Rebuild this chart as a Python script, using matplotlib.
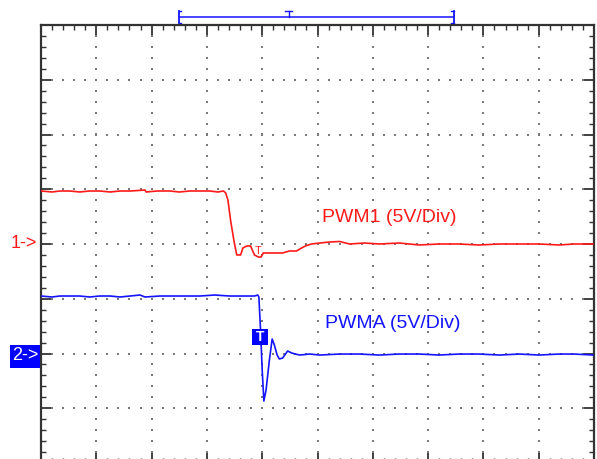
import matplotlib
matplotlib.use("Agg")
import matplotlib.pyplot as plt
import numpy as np
from matplotlib.patches import Rectangle

# ---------------- data (time in divisions, voltage in volts, 5 V/div) -------------
volts_per_div = 5.0
ch1_offset_div = 4.0   # "1->" ground marker
ch2_offset_div = 2.0   # "2->" ground marker

t_pwm1 = [0.00, 0.20, 0.34, 0.52, 0.70, 0.88, 1.06, 1.25, 1.43, 1.62, 1.88, 1.90, 2.10,
          2.33, 2.50, 2.69, 2.88, 3.05, 3.20, 3.30, 3.34, 3.38, 3.43, 3.49, 3.54, 3.61,
          3.65, 3.72, 3.79, 3.86, 3.93, 3.98, 4.02, 4.13, 4.37, 4.49, 4.62, 4.68, 4.78,
          4.89, 5.04, 5.22, 5.40, 5.58, 5.85, 6.12, 6.48, 6.84, 7.20, 7.56, 7.92, 8.29,
          8.65, 9.01, 9.37, 9.64, 9.98]
v_pwm1 = [4.84, 4.75, 4.84, 4.84, 4.75, 4.84, 4.84, 4.75, 4.84, 4.84, 4.93, 4.75, 4.84,
          4.84, 4.75, 4.84, 4.84, 4.84, 4.75, 4.84, 4.66, 4.02, 2.10, 0.27, -1.00, -1.00,
          -0.37, -0.18, -0.18, -1.00, -1.19, -1.19, -0.82, -0.82, -0.82, -0.64, -0.64, -0.46,
          -0.18, 0.00, 0.09, 0.18, 0.23, -0.00, 0.09, 0.00, 0.09, -0.09, 0.00, 0.00, -0.09,
          0.00, 0.00, 0.00, -0.09, 0.00, 0.00]

t_pwma = [0.00, 0.20, 0.34, 0.52, 0.70, 0.88, 1.06, 1.25, 1.43, 1.79, 1.88, 2.15, 2.51,
          2.87, 3.14, 3.41, 3.68, 3.86, 3.92, 3.94, 3.97, 4.00, 4.03, 4.07, 4.13, 4.18,
          4.22, 4.27, 4.31, 4.37, 4.46, 4.53, 4.60, 4.68, 4.86, 5.04, 5.40, 5.76, 6.12,
          6.48, 6.84, 7.20, 7.56, 7.92, 8.29, 8.65, 9.01, 9.37, 9.64, 9.98]
v_pwma = [5.25, 5.16, 5.25, 5.25, 5.25, 5.16, 5.25, 5.25, 5.16, 5.34, 5.16, 5.25, 5.25,
          5.25, 5.34, 5.25, 5.25, 5.25, 5.34, 5.16, 2.15, -1.51, -4.34, -3.33, -0.59, 1.32,
          0.78, -0.14, -0.50, -0.41, 0.23, 0.05, -0.05, -0.14, -0.05, -0.14, -0.05, -0.05,
          -0.14, -0.05, -0.05, -0.14, -0.05, -0.05, -0.14, -0.05, -0.14, -0.05, -0.05, -0.14]

trigger_t = 3.97
trigger_window = (2.49, 7.47)
trigger_bar_t = 4.48

label_pwm1 = "PWM1 (5V/Div)"
label_pwma = "PWMA (5V/Div)"

# ---------------- figure ---------------------------------------------------------
plt.rcParams['font.family'] = ['Liberation Sans', 'DejaVu Sans']
W, H = 597, 459
fig = plt.figure(figsize=(W / 100, H / 100), dpi=100)
left_px, right_px, top_px, div_h = 41, 594, 25, 54.75
bot_px = top_px + 8 * div_h
ax = fig.add_axes([left_px / W, (H - bot_px) / H, (right_px - left_px) / W, 8 * div_h / H])
ax.set_xlim(0, 10)
ax.set_ylim(0, 8)

red = '#ff1a1a'
blue = '#1414ff'
frame = '#333333'

for s in ax.spines.values():
    s.set_color(frame)
    s.set_linewidth(1.6)

ax.set_xticks(np.arange(0, 11, 1))
ax.set_yticks(np.arange(0, 9, 1))
ax.set_xticks(np.arange(0, 10.01, 0.2), minor=True)
ax.set_yticks(np.arange(0, 8.01, 0.2), minor=True)
ax.tick_params(which='both', direction='in', top=True, right=True, bottom=True, left=True,
               labelbottom=False, labelleft=False, color=frame)
ax.tick_params(which='major', length=7.5, width=1.3)
ax.tick_params(which='minor', length=3.5, width=1.0)

# dotted graticule
dots_x, dots_y = [], []
for k in range(1, 10):
    for y in np.arange(0.2, 8.0, 0.2):
        dots_x.append(k); dots_y.append(y)
for j in range(1, 8):
    for x in np.arange(0.2, 10.0, 0.2):
        dots_x.append(x); dots_y.append(j)
ax.scatter(dots_x, dots_y, s=1.6, marker='s', color='#7a7a7a', linewidths=0, zorder=1)

# traces
y1 = ch1_offset_div + np.array(v_pwm1) / volts_per_div
y2 = ch2_offset_div + np.array(v_pwma) / volts_per_div
ax.plot(t_pwm1, y1, color=red, lw=1.2, zorder=3)
ax.plot(t_pwma, y2, color=blue, lw=1.2, zorder=3)

# labels
ax.text(5.08, 4.40, label_pwm1, color=red, fontsize=14, ha='left', va='baseline')
ax.text(5.14, 2.47, label_pwma, color=blue, fontsize=14, ha='left', va='baseline')

# channel markers
ax.annotate("1->", xy=(0, ch1_offset_div), xytext=(-3, 0), textcoords='offset points',
            color=red, fontsize=13, ha='right', va='center', annotation_clip=False)
ax.add_patch(Rectangle((-0.56, ch2_offset_div - 0.26), 0.54, 0.42, facecolor='#0000ff',
                       edgecolor='none', clip_on=False, zorder=5))
ax.text(-0.29, ch2_offset_div - 0.04, "2->", color='white', fontsize=13, ha='center',
        va='center', clip_on=False, zorder=6)

# trigger markers
ax.add_patch(Rectangle((trigger_t - 0.15, 2.15), 0.29, 0.30, facecolor='#0000ff',
                       edgecolor='none', zorder=5))
ax.text(trigger_t - 0.005, 2.30, "T", color='white', fontsize=10, fontweight='bold',
        ha='center', va='center', zorder=6)
ax.text(trigger_t - 0.05, 3.87, "T", color=red, fontsize=8, ha='center', va='center', zorder=4)

# top trigger-window bar
yb = 8.15
ax.plot(list(trigger_window), [yb, yb], color=blue, lw=1.1, clip_on=False)
for xb, d in [(trigger_window[0], 1), (trigger_window[1], -1)]:
    ax.plot([xb, xb], [yb - 0.11, yb + 0.11], color=blue, lw=1.3, clip_on=False)
    ax.plot([xb, xb + d * 0.05], [yb + 0.11, yb + 0.11], color=blue, lw=1.0, clip_on=False)
    ax.plot([xb, xb + d * 0.05], [yb - 0.11, yb - 0.11], color=blue, lw=1.0, clip_on=False)
ax.plot([trigger_bar_t, trigger_bar_t], [yb, yb + 0.1], color=blue, lw=1.0, clip_on=False)
ax.plot([trigger_bar_t - 0.06, trigger_bar_t + 0.06], [yb + 0.1, yb + 0.1], color=blue,
        lw=1.0, clip_on=False)

fig.savefig("out.png", dpi=100)
